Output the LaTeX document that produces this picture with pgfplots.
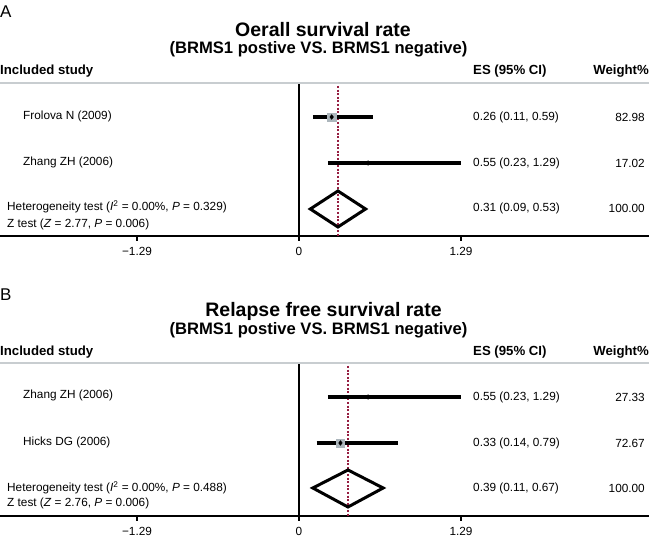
\documentclass[border=0pt]{standalone}
\usepackage{fontspec}
\setmainfont{Liberation Sans}
\usepackage{pgfplots}
\pgfplotsset{compat=1.18}
\definecolor{refcol}{RGB}{150,30,65}
\definecolor{boxcol}{RGB}{172,182,188}
\definecolor{hdrline}{RGB}{200,205,208}
\pgfplotsset{forest/.style={
  scale only axis, width=649pt, height=153pt,
  xmin=-2.3806, xmax=2.7866,
  axis x line*=bottom, axis y line=none,
  xtick={-1.29,0,1.29}, xticklabels={−1.29,0,1.29},
  minor xtick={},
  tick align=outside, major tick length=5pt,
  tick style={black, line width=1.8pt},
  x axis line style={line width=2.2pt, -},
  ticklabel style={font=\fontsize{11.8}{14}\selectfont},
  xticklabel style={yshift=-3pt},
  clip=false,
},
estpt/.style={only marks, mark=diamond*, mark size=2.4pt, black, mark options={draw=black, fill=black}}}
\newcommand{\bx}{\fontsize{11.8}{14}\selectfont}
\begin{document}
\begin{tikzpicture}
% ---------- Panel A ----------
\begin{axis}[forest, at={(0pt,301pt)}, anchor=south west, ymin=-236, ymax=-83]
\addplot[black, line width=2.2pt] coordinates {(0,-83) (0,-236)};
\addplot[refcol, line width=1.3pt, dash pattern=on 2pt off 1.6pt] coordinates {(0.31,-86) (0.31,-236)};
% Frolova N (2009)
\addplot[only marks, mark=square*, mark size=4.2pt, boxcol] coordinates {(0.26,-117)};
\addplot[black, line width=3.2pt] coordinates {(0.11,-117) (0.59,-117)};
\addplot[estpt] coordinates {(0.26,-117)};
% Zhang ZH (2006)
\addplot[black, line width=3.2pt] coordinates {(0.23,-163) (1.29,-163)};
\addplot[estpt] coordinates {(0.55,-163)};
% pooled
\addplot[black, line width=3pt, line join=miter] coordinates {(0.31,-191) (0.53,-209) (0.31,-227) (0.09,-209) (0.31,-191) (0.53,-209)};
\end{axis}
% ---------- Panel B ----------
\begin{axis}[forest, at={(0pt,21pt)}, anchor=south west, ymin=-516, ymax=-363]
\addplot[black, line width=2.2pt] coordinates {(0,-363) (0,-516)};
\addplot[refcol, line width=1.3pt, dash pattern=on 2pt off 1.6pt] coordinates {(0.39,-366) (0.39,-516)};
% Zhang ZH (2006)
\addplot[black, line width=3.2pt] coordinates {(0.23,-397) (1.29,-397)};
\addplot[estpt] coordinates {(0.55,-397)};
% Hicks DG (2006)
\addplot[only marks, mark=square*, mark size=3.9pt, boxcol] coordinates {(0.33,-443)};
\addplot[black, line width=3.2pt] coordinates {(0.14,-443) (0.79,-443)};
\addplot[estpt] coordinates {(0.33,-443)};
% pooled
\addplot[black, line width=3pt, line join=miter] coordinates {(0.39,-470) (0.67,-488) (0.39,-507) (0.11,-488) (0.39,-470) (0.67,-488)};
\end{axis}
% ---------- Texts A ----------
\begin{scope}[every node/.style={inner sep=0pt}]
\node[anchor=west] at (0pt,525pt) {\fontsize{17}{20}\selectfont A};
\node at (323pt,507.5pt) {\fontsize{19.5}{23}\selectfont\bfseries Oerall survival rate};
\node at (318.5pt,488pt) {\fontsize{16.6}{20}\selectfont\bfseries (BRMS1 postive VS. BRMS1 negative)};
\node[anchor=west] at (0pt,466pt) {\fontsize{13.2}{16}\selectfont\bfseries Included study};
\node[anchor=west] at (473pt,466pt) {\fontsize{13.2}{16}\selectfont\bfseries ES (95\% CI)};
\node[anchor=east] at (649pt,466pt) {\fontsize{13.2}{16}\selectfont\bfseries Weight\%};
\draw[hdrline, line width=1.6pt] (0pt,454pt) -- (649pt,454pt);
\node[anchor=west] at (23pt,421pt) {\bx Frolova N (2009)};
\node[anchor=west] at (23pt,375pt) {\bx Zhang ZH (2006)};
\node[anchor=west] at (7pt,330pt) {\bx Heterogeneity test (\textit{I}\textsuperscript{2} = 0.00\%, \textit{P} = 0.329)};
\node[anchor=west] at (7pt,313pt) {\bx Z test (\textit{Z} = 2.77, \textit{P} = 0.006)};
\node[anchor=west] at (473pt,420pt) {\bx 0.26 (0.11, 0.59)};
\node[anchor=west] at (473pt,374pt) {\bx 0.55 (0.23, 1.29)};
\node[anchor=west] at (473pt,329pt) {\bx 0.31 (0.09, 0.53)};
\node[anchor=east] at (645pt,420pt) {\bx 82.98};
\node[anchor=east] at (645pt,374pt) {\bx 17.02};
\node[anchor=east] at (645pt,329pt) {\bx 100.00};
% ---------- Texts B ----------
\node[anchor=west] at (0pt,242pt) {\fontsize{17}{20}\selectfont B};
\node at (323.5pt,226pt) {\fontsize{19.5}{23}\selectfont\bfseries Relapse free survival rate};
\node at (318.5pt,206.5pt) {\fontsize{16.6}{20}\selectfont\bfseries (BRMS1 postive VS. BRMS1 negative)};
\node[anchor=west] at (0pt,185pt) {\fontsize{13.2}{16}\selectfont\bfseries Included study};
\node[anchor=west] at (473pt,185pt) {\fontsize{13.2}{16}\selectfont\bfseries ES (95\% CI)};
\node[anchor=east] at (649pt,185pt) {\fontsize{13.2}{16}\selectfont\bfseries Weight\%};
\draw[hdrline, line width=1.6pt] (0pt,174pt) -- (649pt,174pt);
\node[anchor=west] at (23pt,142pt) {\bx Zhang ZH (2006)};
\node[anchor=west] at (23pt,95pt) {\bx Hicks DG (2006)};
\node[anchor=west] at (7pt,49pt) {\bx Heterogeneity test (\textit{I}\textsuperscript{2} = 0.00\%, \textit{P} = 0.488)};
\node[anchor=west] at (7pt,34pt) {\bx Z test (\textit{Z} = 2.76, \textit{P} = 0.006)};
\node[anchor=west] at (473pt,140pt) {\bx 0.55 (0.23, 1.29)};
\node[anchor=west] at (473pt,94pt) {\bx 0.33 (0.14, 0.79)};
\node[anchor=west] at (473pt,49pt) {\bx 0.39 (0.11, 0.67)};
\node[anchor=east] at (645pt,140pt) {\bx 27.33};
\node[anchor=east] at (645pt,94pt) {\bx 72.67};
\node[anchor=east] at (645pt,49pt) {\bx 100.00};
\end{scope}
\pgfresetboundingbox
\path (0pt,0pt) rectangle (649pt,537pt);
\end{tikzpicture}
\end{document}
